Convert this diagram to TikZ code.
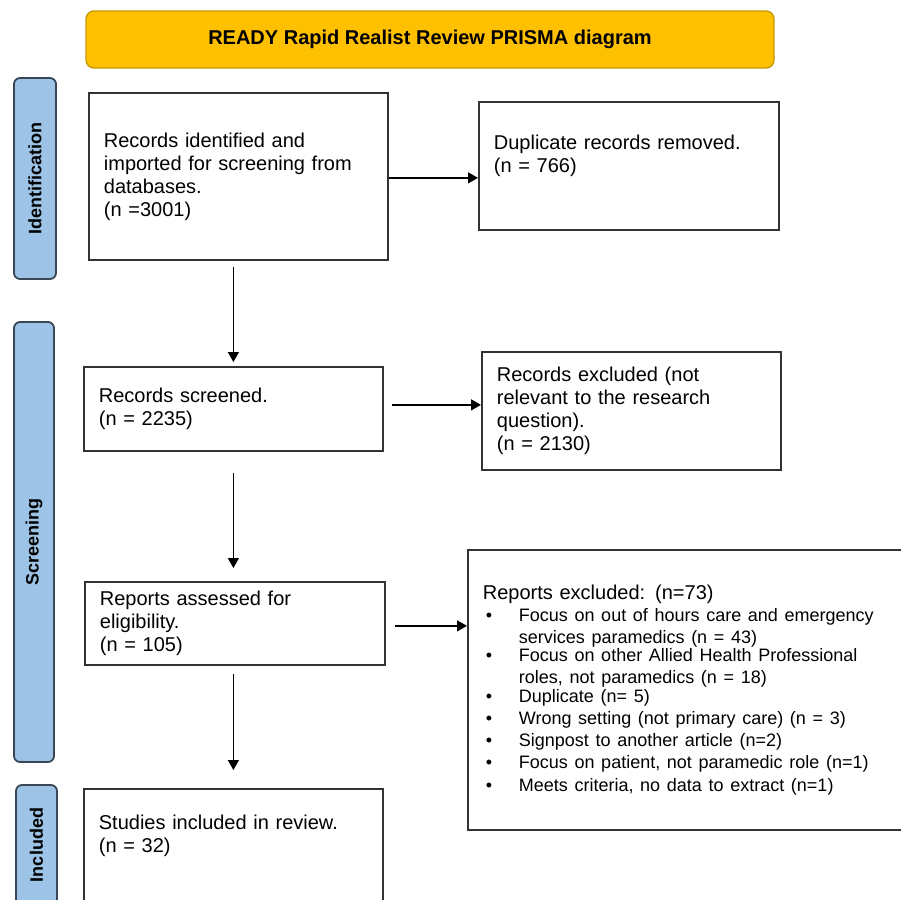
\documentclass[tikz,border=0pt]{standalone}
\usepackage{fontspec}
\setmainfont{Liberation Sans}
\usepackage{xcolor}
\usetikzlibrary{arrows.meta}
\definecolor{bannerfill}{HTML}{FFC000}
\definecolor{bannerline}{HTML}{C59A00}
\definecolor{sidefill}{HTML}{9DC3E6}
\definecolor{sideline}{HTML}{3A4756}
\newcommand{\bitem}[1]{\par\noindent\hspace*{1.5pt}\makebox[16.5pt][l]{\textbullet}\parbox[t]{200pt}{#1}}

\begin{document}
\begin{tikzpicture}[x=0.5pt, y=-0.5pt,
    box/.style={draw=black!80, line width=0.9pt, anchor=north west, align=left,
      inner xsep=7.5pt, inner ysep=0pt, font=\fontsize{10}{11.5}\selectfont},
    side/.style={draw=sideline, fill=sidefill, line width=0.9pt, rounded corners=3pt,
      rotate=90, inner sep=0pt, font=\fontsize{9}{10}\selectfont\bfseries},
    arr/.style={-{Triangle[length=5pt,width=5.5pt]}, line width=0.75pt}]
  \useasboundingbox (0,0) rectangle (901,900);
  \clip (0,0) rectangle (901,900);

  % title
  \node[draw=bannerline, fill=bannerfill, line width=0.7pt, rounded corners=4pt,
    minimum width=344pt, minimum height=28.5pt, font=\fontsize{10}{12}\selectfont\bfseries]
    (title) at (430,39.5) {READY Rapid Realist Review PRISMA diagram};

  % phases
  \node[side, minimum width=100.5pt, minimum height=21pt] (idphase) at (35,178.5) {Identification};
  \node[side, minimum width=220pt, minimum height=20pt] (scphase) at (34,542) {Screening};
  \node[side, minimum width=60pt, minimum height=20.5pt] (inphase) at (36.5,845) {Included};

  % main column
  \node[box, minimum width=149.5pt, minimum height=83.5pt, text width=134.5pt] (ident) at (88,92)
    {Records identified and\\imported for screening from\\databases.\\(n =3001)};
  \node[box, minimum width=149.5pt, minimum height=42pt, text width=134.5pt] (screen) at (83,366)
    {Records screened.\\(n = 2235)};
  \node[box, minimum width=150pt, minimum height=41.5pt, text width=135pt] (assess) at (84,581)
    {Reports assessed for\\eligibility.\\(n = 105)};
  \node[box, minimum width=149.5pt, text width=134.5pt, text height=20.5pt, text depth=49.5pt] (incl) at (83,788)
    {Studies included in review.\\(n = 32)};

  % exclusions
  \node[box, minimum width=150pt, text width=135pt, text height=24pt, text depth=40pt] (dup) at (478,101)
    {Duplicate records removed.\\(n = 766)};
  \node[box, minimum width=149.5pt, minimum height=59pt, text width=134.5pt] (excl) at (481,351)
    {Records excluded (not\\relevant to the research\\question).\\(n = 2130)};
  \node[box, minimum width=240pt, minimum height=140pt, text width=225pt] (rexcl) at (467,549)
    {Reports excluded: (n=73)\par
     \fontsize{9}{11}\selectfont
     \bitem{Focus on out of hours care and emergency\\services paramedics (n = 43)}
     \bitem{Focus on other Allied Health Professional\\roles, not paramedics (n = 18)}
     \bitem{Duplicate (n= 5)}
     \bitem{Wrong setting (not primary care) (n = 3)}
     \bitem{Signpost to another article (n=2)}
     \bitem{Focus on patient, not paramedic role (n=1)}
     \bitem{Meets criteria, no data to extract (n=1)}};

  % arrows
  \draw[arr] ([yshift=-0.75pt]ident.east) -- ([yshift=-0.75pt]ident.east -| dup.west);
  \draw[arr, shorten <=4pt] ([yshift=2pt]screen.east) -- ([yshift=2pt]screen.east -| excl.west);
  \draw[arr, shorten <=4.5pt] ([yshift=-1.25pt]assess.east) -- ([yshift=-1.25pt]assess.east -| rexcl.west);
  \draw[arr, shorten <=3pt, shorten >=2pt] (ident.south -| screen.north) -- (screen.north);
  \draw[arr, shorten <=10.5pt, shorten >=6.5pt] (screen.south) -- (screen.south |- assess.north);
  \draw[arr, shorten <=4pt, shorten >=9pt] (assess.south -| screen.south) -- (screen.south |- incl.north);
\end{tikzpicture}
\end{document}
